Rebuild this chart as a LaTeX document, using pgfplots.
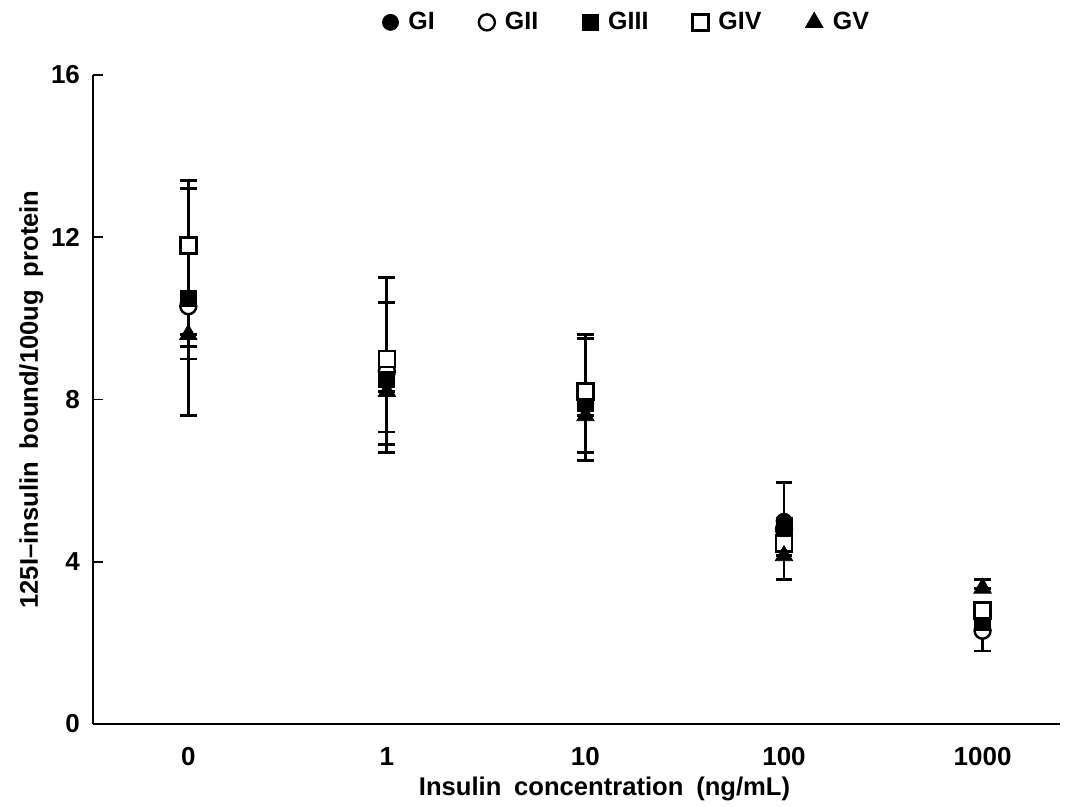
\documentclass[border=0pt]{standalone}
\usepackage{fontspec}
\setmainfont{Liberation Sans}
\usepackage{pgfplots}
\pgfplotsset{compat=1.18}

\begin{document}
\begin{tikzpicture}
\useasboundingbox (-46.5pt,-41.5pt) rectangle (486.5pt,362pt);
\begin{axis}[
  scale only axis,
  width=483.5pt,
  height=324.5pt,
  at={(0,0)}, anchor=south west,
  axis x line*=bottom,
  axis y line*=left,
  axis line style={line width=1.4pt},
  xmin=-0.48, xmax=4.39,
  ymin=0, ymax=16,
  xtick={0,1,2,3,4},
  xticklabels={0,1,10,100,1000},
  ytick={0,4,8,12,16},
  x tick style={draw=none},
  y tick style={line width=0.9pt, black},
  tick align=inside,
  major tick length=5pt,
  /pgf/number format/assume math mode=true,
  tick label style={font=\fontsize{13}{14}\selectfont\bfseries},
  yticklabel style={xshift=-3pt},
  xticklabel style={yshift=-8pt, text height=9pt, text depth=0pt},
  xlabel={Insulin\hspace{0.5em}concentration\hspace{0.5em}(ng/mL)},
  ylabel={125I--insulin\hspace{0.5em}bound/100ug\hspace{0.5em}protein},
  label style={font=\fontsize{12.8}{13}\selectfont\bfseries},
  xlabel style={yshift=1pt, xshift=14pt},
  ylabel style={yshift=-3pt},
  error bars/y dir=both,
  error bars/y explicit,
  error bars/error mark options={rotate=90, mark size=4.2pt, line width=1.4pt},
  error bars/error bar style={line width=1.4pt},
  legend columns=5,
  legend style={draw=none, fill=none, at={(0.553,1)}, anchor=south,
    yshift=17pt, font=\fontsize{12.5}{13}\selectfont\bfseries,
    /tikz/every odd column/.append style={column sep=3pt},
    /tikz/every even column/.append style={column sep=20pt}},
  legend cell align=left,
]
% GI filled circle
\addplot[only marks, mark=*, mark size=4pt, black, mark options={fill=black}]
coordinates {
(0,10.4) += (0,0) -= (0,1.1)
(1,8.6) += (0,0) -= (0,1.4)
(2,7.9) += (0,0) -= (0,1.2)
(3,5.0) += (0,0.95) -= (0,0)
(4,2.5) += (0,0) -= (0,0)
};
% GII open circle
\addplot[only marks, mark=*, mark size=4pt, black, mark options={line width=1.2pt, fill=white}]
coordinates {
(0,10.3) += (0,0) -= (0,2.7)
(1,8.7) += (0,1.7) -= (0,0)
(2,8.1) += (0,1.4) -= (0,0)
(3,4.8) += (0,0) -= (0,0)
(4,2.3) += (0,0) -= (0,0.5)
};
% GIII filled square
\addplot[only marks, mark=square*, mark size=4pt, black, mark options={fill=black}]
coordinates {
(0,10.5) += (0,2.7) -= (0,0)
(1,8.5) += (0,0) -= (0,1.8)
(2,7.9) += (0,0) -= (0,0)
(3,4.9) += (0,0) -= (0,0)
(4,2.5) += (0,0) -= (0,0)
};
% GIV open square
\addplot[only marks, mark=square*, mark size=4pt, black, mark options={fill=white, line width=1.2pt}]
coordinates {
(0,11.8) += (0,1.6) -= (0,0)
(1,9.0) += (0,2.0) -= (0,0)
(2,8.2) += (0,1.4) -= (0,0)
(3,4.45) += (0,0) -= (0,0)
(4,2.8) += (0,0) -= (0,0)
};
% GV filled triangle
\addplot[only marks, mark=triangle*, mark size=5pt, black, mark options={fill=black}]
coordinates {
(0,9.6) += (0,0) -= (0,0.6)
(1,8.2) += (0,0) -= (0,1.3)
(2,7.6) += (0,0) -= (0,1.1)
(3,4.15) += (0,0) -= (0,0.58)
(4,3.35) += (0,0.22) -= (0,0)
};
\legend{GI,GII,GIII,GIV,GV}
\end{axis}
\end{tikzpicture}
\end{document}
